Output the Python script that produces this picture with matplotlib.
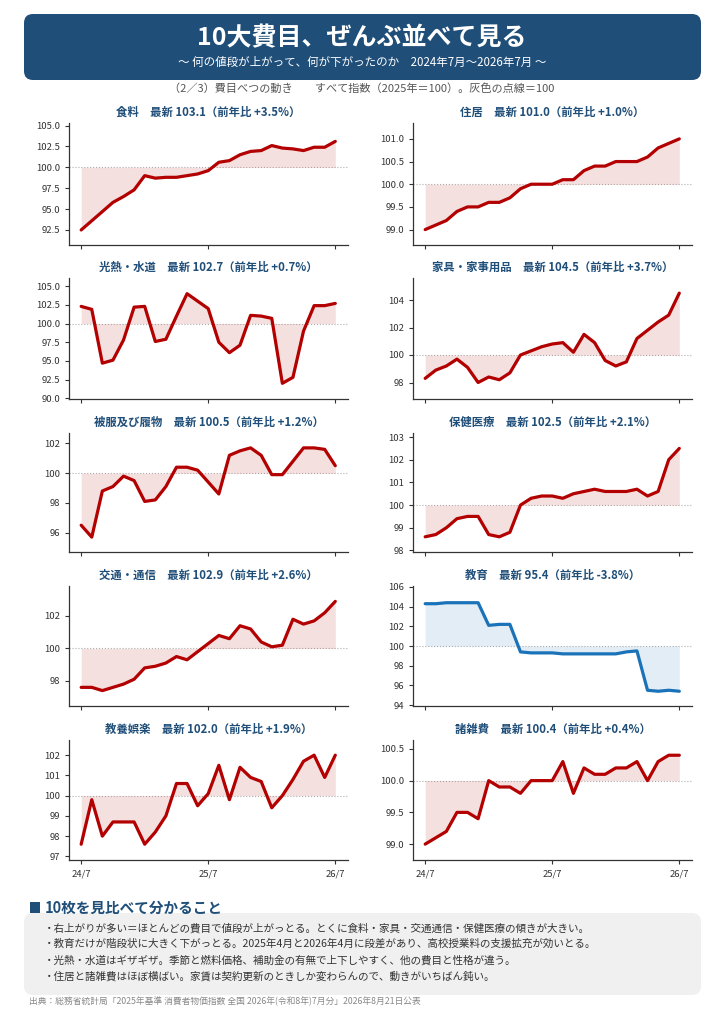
import numpy as np
import matplotlib
matplotlib.use("Agg")
import matplotlib.pyplot as plt
from matplotlib.patches import FancyBboxPatch, Rectangle
from matplotlib.ticker import MultipleLocator

plt.rcParams['font.family'] = ['Noto Sans CJK JP', 'DejaVu Sans']

# ---- data (index, 2025 = 100), monthly 2024/7 .. 2026/7 ----
months = ['24/7', '25/7', '26/7']

names = ['食料', '住居', '光熱・水道', '家具・家事用品', '被服及び履物',
         '保健医療', '交通・通信', '教育', '教養娯楽', '諸雑費']
yoy = [3.5, 1.0, 0.7, 3.7, 1.2, 2.1, 2.6, -3.8, 1.9, 0.4]

food = [92.5, 93.6, 94.7, 95.8, 96.5, 97.3, 99.0, 98.7, 98.8, 98.8, 99.0, 99.2, 99.6,
        100.6, 100.8, 101.5, 101.9, 102.0, 102.6, 102.3, 102.2, 102.0, 102.4, 102.4, 103.1]
housing = [99.0, 99.1, 99.2, 99.4, 99.5, 99.5, 99.6, 99.6, 99.7, 99.9, 100.0, 100.0, 100.0,
           100.1, 100.1, 100.3, 100.4, 100.4, 100.5, 100.5, 100.5, 100.6, 100.8, 100.9, 101.0]
utilities = [102.3, 101.9, 94.7, 95.1, 97.8, 102.2, 102.3, 97.6, 97.9, 101.0, 104.0, 103.0, 102.0,
             97.5, 96.1, 97.1, 101.1, 101.0, 100.7, 92.0, 92.8, 99.0, 102.4, 102.4, 102.7]
furniture = [98.3, 98.9, 99.2, 99.7, 99.1, 98.0, 98.4, 98.2, 98.7, 100.0, 100.3, 100.6, 100.8,
             100.9, 100.2, 101.5, 100.9, 99.6, 99.2, 99.5, 101.2, 101.8, 102.4, 102.9, 104.5]
clothing = [96.5, 95.7, 98.8, 99.1, 99.8, 99.5, 98.1, 98.2, 99.1, 100.4, 100.4, 100.2, 99.4,
            98.6, 101.2, 101.5, 101.7, 101.2, 99.9, 99.9, 100.8, 101.7, 101.7, 101.6, 100.5]
medical = [98.6, 98.7, 99.0, 99.4, 99.5, 99.5, 98.7, 98.6, 98.8, 100.0, 100.3, 100.4, 100.4,
           100.3, 100.5, 100.6, 100.7, 100.6, 100.6, 100.6, 100.7, 100.4, 100.6, 102.0, 102.5]
transport = [97.6, 97.6, 97.4, 97.6, 97.8, 98.1, 98.8, 98.9, 99.1, 99.5, 99.3, 99.8, 100.3,
             100.8, 100.6, 101.4, 101.2, 100.4, 100.1, 100.2, 101.8, 101.5, 101.7, 102.2, 102.9]
education = [104.3, 104.3, 104.4, 104.4, 104.4, 104.4, 102.1, 102.2, 102.2, 99.4, 99.3, 99.3, 99.3,
             99.2, 99.2, 99.2, 99.2, 99.2, 99.2, 99.4, 99.5, 95.5, 95.4, 95.5, 95.4]
recreation = [97.6, 99.8, 98.0, 98.7, 98.7, 98.7, 97.6, 98.2, 99.0, 100.6, 100.6, 99.5, 100.1,
              101.5, 99.8, 101.4, 100.9, 100.7, 99.4, 100.0, 100.8, 101.7, 102.0, 100.9, 102.0]
misc = [99.0, 99.1, 99.2, 99.5, 99.5, 99.4, 100.0, 99.9, 99.9, 99.8, 100.0, 100.0, 100.0,
        100.3, 99.8, 100.2, 100.1, 100.1, 100.2, 100.2, 100.3, 100.0, 100.3, 100.4, 100.4]

series = [food, housing, utilities, furniture, clothing,
          medical, transport, education, recreation, misc]

bullets = [
    '・右上がりが多い＝ほとんどの費目で値段が上がっとる。とくに食料・家具・交通通信・保健医療の傾きが大きい。',
    '・教育だけが階段状に大きく下がっとる。2025年4月と2026年4月に段差があり、高校授業料の支援拡充が効いとる。',
    '・光熱・水道はギザギザ。季節と燃料価格、補助金の有無で上下しやすく、他の費目と性格が違う。',
    '・住居と諸雑費はほぼ横ばい。家賃は契約更新のときしか変わらんので、動きがいちばん鈍い。',
]

# ---- layout / style ----
W, H = 724, 1024
NAVY = '#1f4e79'
RED = '#b30000'
BLUE = '#1a72b8'

ylims = [(90.7, 105.3), (98.66, 101.35), (89.9, 106.1), (96.8, 105.6), (94.7, 102.7),
         (97.93, 103.18), (96.45, 103.85), (93.9, 106.1), (96.82, 102.75), (98.75, 100.64)]
ysteps = [2.5, 0.5, 2.5, 2, 2, 1, 2, 2, 1, 0.5]

cols = [(69, 348), (413, 692)]
rows = [(123, 245), (278, 399), (433, 552), (586, 706), (740, 860)]

fig = plt.figure(figsize=(W / 100, H / 100), dpi=100)

bg = fig.add_axes([0, 0, 1, 1])
bg.set_xlim(0, W)
bg.set_ylim(H, 0)
bg.axis('off')

bg.add_patch(FancyBboxPatch((24, 14), 677, 66, boxstyle='round,pad=0,rounding_size=9',
                            facecolor=NAVY, edgecolor='none'))
bg.text(W / 2, 38, '10大費目、ぜんぶ並べて見る', color='white', fontsize=18,
        fontweight='bold', ha='center', va='center')
bg.text(W / 2, 62, '〜 何の値段が上がって、何が下がったのか　2024年7月〜2026年7月 〜',
        color='white', fontsize=8.3, ha='center', va='center')
bg.text(W / 2, 89, '（2／3）費目べつの動き　　すべて指数（2025年＝100）。灰色の点線＝100',
        color='#555555', fontsize=8, ha='center', va='center')

x = np.arange(len(food))
for i, (name, vals) in enumerate(zip(names, series)):
    r, c = divmod(i, 2)
    x0, x1 = cols[c]
    y0, y1 = rows[r]
    ax = fig.add_axes([x0 / W, 1 - y1 / H, (x1 - x0) / W, (y1 - y0) / H])
    col = BLUE if name == '教育' else RED
    ax.axhline(100, color='#b0b0b0', lw=0.8, ls=':', zorder=1)
    ax.fill_between(x, vals, 100, color=col, alpha=0.12, lw=0, zorder=2)
    ax.plot(x, vals, color=col, lw=2.3, zorder=3, solid_capstyle='round')
    ax.set_xlim(-1.15, 25.2)
    ax.set_ylim(*ylims[i])
    ax.yaxis.set_major_locator(MultipleLocator(ysteps[i]))
    ax.set_xticks([0, 12, 24])
    if r == len(rows) - 1:
        ax.set_xticklabels(months)
    else:
        ax.set_xticklabels([])
    for s in ['top', 'right']:
        ax.spines[s].set_visible(False)
    for s in ['left', 'bottom']:
        ax.spines[s].set_color('#333333')
        ax.spines[s].set_linewidth(0.9)
    ax.tick_params(labelsize=6.8, colors='#333333', length=3, width=0.8)
    ax.set_title(f'{name}　最新 {vals[-1]:.1f}（前年比 {yoy[i]:+.1f}%）',
                 fontsize=8.2, fontweight='bold', color=NAVY, pad=5)

# ---- findings box ----
bg.add_patch(FancyBboxPatch((24, 913), 677, 82, boxstyle='round,pad=0,rounding_size=9',
                            facecolor='#f0f0f0', edgecolor='none'))
bg.add_patch(Rectangle((30, 902), 10, 11, facecolor=NAVY, edgecolor='none'))
bg.text(45, 908, '10枚を見比べて分かること', color=NAVY, fontsize=10.5,
        fontweight='bold', ha='left', va='center')
for k, line in enumerate(bullets):
    bg.text(44, 928 + 16 * k, line, color='#333333', fontsize=7.6, ha='left', va='center')

bg.text(29, 1001, '出典：総務省統計局「2025年基準 消費者物価指数 全国 2026年(令和8年)7月分」2026年8月21日公表',
        color='#888888', fontsize=6.3, ha='left', va='center')

fig.savefig('out.png', dpi=100)
